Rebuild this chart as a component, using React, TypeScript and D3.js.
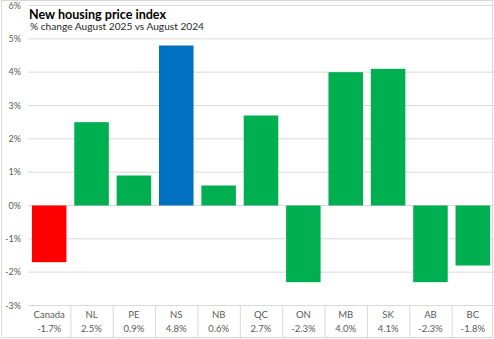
import React from "react";
import * as d3 from "d3";

const categories = ["Canada", "NL", "PE", "NS", "NB", "QC", "ON", "MB", "SK", "AB", "BC"];
const values = [-1.7, 2.5, 0.9, 4.8, 0.6, 2.7, -2.3, 4.0, 4.1, -2.3, -1.8];
const valueLabels = ["-1.7%", "2.5%", "0.9%", "4.8%", "0.6%", "2.7%", "-2.3%", "4.0%", "4.1%", "-2.3%", "-1.8%"];
const yTicks = [-3, -2, -1, 0, 1, 2, 3, 4, 5, 6];
const title = "New housing price index";
const subtitle = "% change August 2025 vs August 2024";

const W = 494;
const H = 339;
const LFONT = "Lato, 'Open Sans', sans-serif";

function barColor(cat: string) {
  if (cat === "Canada") return "#FF0000";
  if (cat === "NS") return "#0070C0";
  return "#00B050";
}

export default function App() {
  const x = d3
    .scaleBand<string>()
    .domain(categories)
    .range([28, 494])
    .paddingInner(0.185)
    .paddingOuter(0.0925);
  const y = d3.scaleLinear().domain([-3, 6]).range([305.5, 5.5]);
  const step = x.step();
  const tableTop = y(-3);
  const tableBottom = 337.5;

  return (
    <svg
      width={W}
      height={H}
      style={{ position: "absolute", left: 0, top: 0, background: "#fff" }}
    >
      <rect x={0} y={0} width={W} height={H} fill="#fff" />
      {yTicks.map((t) => (
        <g key={t}>
          <line x1={28} x2={W} y1={y(t)} y2={y(t)} stroke="#d9d9d9" strokeWidth={1} />
          <text
            x={21}
            y={y(t)}
            dy="0.35em"
            textAnchor="end"
            fontFamily={LFONT}
            fontSize={9}
            fill="#595959"
          >
            {`${t}%`}
          </text>
        </g>
      ))}
      {categories.map((c, i) => {
        const v = values[i];
        const y0 = y(0);
        const yv = y(v);
        return (
          <rect
            key={c}
            x={x(c)}
            width={x.bandwidth()}
            y={Math.min(y0, yv)}
            height={Math.abs(yv - y0)}
            fill={barColor(c)}
          />
        );
      })}
      {categories.map((c, i) =>
        i > 0 ? (
          <line
            key={"sep" + c}
            x1={28 + i * step + 0.5}
            x2={28 + i * step + 0.5}
            y1={tableTop}
            y2={tableBottom}
            stroke="#d9d9d9"
          />
        ) : null
      )}
      {categories.map((c, i) => {
        const cx = (x(c) as number) + x.bandwidth() / 2;
        return (
          <g key={"lab" + c}>
            <text x={cx} y={318} textAnchor="middle" fontFamily={LFONT} fontSize={9.5} fill="#595959">
              {c}
            </text>
            <text x={cx} y={332} textAnchor="middle" fontFamily={LFONT} fontSize={9.5} fill="#595959">
              {valueLabels[i]}
            </text>
          </g>
        );
      })}
      <rect x={1.5} y={0.5} width={491} height={337} fill="none" stroke="#d9d9d9" strokeWidth={1} />
      <text
        x={29}
        y={19}
        fontFamily={LFONT}
        fontWeight="bold"
        fontSize={13}
        fill="#000"
        textLength={137}
        lengthAdjust="spacingAndGlyphs"
      >
        {title}
      </text>
      <text
        x={30}
        y={30}
        fontFamily={LFONT}
        fontSize={9.5}
        fill="#262626"
        textLength={174}
        lengthAdjust="spacingAndGlyphs"
      >
        {subtitle}
      </text>
    </svg>
  );
}
